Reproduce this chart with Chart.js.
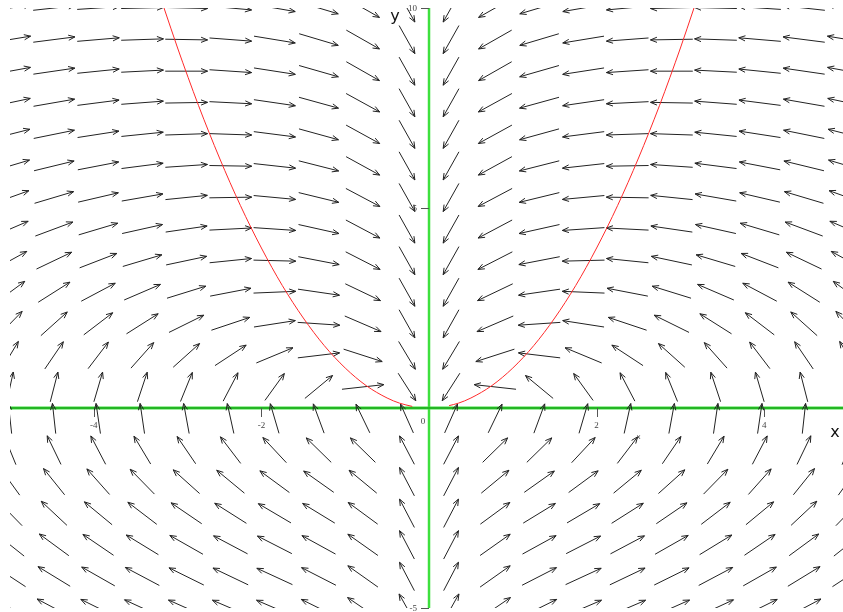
<!DOCTYPE html>
<html>
<head>
<meta charset="utf-8">
<script src="https://cdn.jsdelivr.net/npm/chart.js@4.4.0/dist/chart.umd.min.js"></script>
<style>
  html, body { margin: 0; padding: 0; background: #fff; }
  #wrap { width: 843px; height: 612px; position: relative; }
</style>
</head>
<body>
<div id="wrap"><canvas id="field"></canvas></div>
<script>
// Direction field grid (data units)
const gridX = [-5, -4.474, -3.947, -3.421, -2.895, -2.368, -1.842, -1.316, -0.789, -0.263,
               0.263, 0.789, 1.316, 1.842, 2.368, 2.895, 3.421, 3.947, 4.474, 5];
const gridY = [-5, -4.211, -3.421, -2.632, -1.842, -1.053, -0.263, 0.526, 1.316, 2.105,
               2.895, 3.684, 4.474, 5.263, 6.053, 6.842, 7.632, 8.421, 9.211, 10];

// Arrow directions in degrees (data space), one row per gridY value, one column per gridX value
const arrowAngles = [
  [130,132,134,136,137,138,138,134,125,105, 75,55,46,42,42,43,44,46,48,50],
  [126,128,130,132,134,135,136,133,124,104, 76,56,47,44,45,46,48,50,52,54],
  [121,123,125,128,130,132,133,131,124,104, 76,56,49,47,48,50,52,55,57,59],
  [115,117,120,122,125,127,129,128,123,104, 76,57,52,51,53,55,58,60,63,65],
  [109,111,113,115,118,120,123,124,120,104, 76,60,56,57,60,62,65,67,69,71],
  [101,103,104,106,108,110,114,116,116,104, 76,64,64,66,70,72,74,76,77,79],
  [93,93,94,94,95,96,98,100,103,102, 78,77,80,82,84,85,86,86,87,87],
  [84,83,82,81,79,76,71,60,13,-73, 253,167,120,109,104,101,99,98,97,96],
  [74,72,70,67,62,54,41,14,-34,-74, 254,214,166,139,126,118,113,110,108,106],
  [65,62,58,53,46,35,18,-8,-42,-75, 255,222,188,162,145,134,127,122,118,115],
  [57,53,48,42,33,22,5,-17,-45,-75, 255,225,197,175,158,147,138,132,127,123],
  [49,45,39,32,24,12,-3,-22,-47,-75, 255,227,202,183,168,156,148,141,135,131],
  [42,38,32,25,17,6,-8,-25,-48,-75, 255,228,205,188,174,163,155,148,142,138],
  [37,32,26,20,12,2,-11,-27,-48,-75, 255,228,207,191,178,168,160,154,148,143],
  [32,27,22,15,8,-2,-13,-28,-49,-75, 255,229,208,193,182,172,165,158,153,148],
  [28,23,18,12,4,-4,-15,-30,-49,-75, 255,229,210,195,184,176,168,162,157,152],
  [24,20,15,9,2,-6,-17,-30,-49,-75, 255,229,210,197,186,178,171,165,160,156],
  [21,17,12,6,0,-8,-18,-31,-50,-75, 255,230,211,198,188,180,174,168,163,159],
  [19,15,10,4,-2,-9,-19,-32,-50,-75, 255,230,212,199,189,182,176,170,165,161],
  [17,13,8,3,-3,-11,-20,-32,-50,-75, 255,230,212,200,191,183,177,172,167,163]
];

// Red curve, two pieces (gap at the origin)
const curveLeftX = [-3.162, -3, -2.75, -2.5, -2.25, -2, -1.75, -1.5, -1.25, -1, -0.75, -0.5, -0.35, -0.2];
const curveLeftY = [10, 9, 7.56, 6.25, 5.06, 4, 3.06, 2.25, 1.56, 1, 0.56, 0.25, 0.12, 0.04];
const curveRightX = [0.24, 0.35, 0.5, 0.75, 1, 1.25, 1.5, 1.75, 2, 2.25, 2.5, 2.75, 3, 3.162];
const curveRightY = [0.06, 0.12, 0.25, 0.56, 1, 1.56, 2.25, 3.06, 4, 5.06, 6.25, 7.56, 9, 10];

// Axis tick labels
const xTicks = [-4, -2, 2, 4];
const yTicks = [-5, 5, 10];

const toPoints = (xs, ys) => xs.map((v, i) => ({ x: v, y: ys[i] }));

const fieldPlugin = {
    id: 'field',
    beforeDatasetsDraw(chart) {
        const { ctx, chartArea: a, scales: { x, y } } = chart;
        const x0 = x.getPixelForValue(0);
        const y0 = y.getPixelForValue(0);
        ctx.save();

        // green axes
        ctx.lineCap = 'butt';
        ctx.strokeStyle = '#3ee03e';
        ctx.lineWidth = 3;
        ctx.beginPath();
        ctx.moveTo(a.left, y0); ctx.lineTo(a.right, y0);
        ctx.stroke();
        ctx.lineWidth = 2.5;
        ctx.beginPath();
        ctx.moveTo(x0, a.top); ctx.lineTo(x0, a.bottom);
        ctx.stroke();
        ctx.strokeStyle = '#0a8a0a';
        ctx.lineWidth = 1;
        ctx.beginPath();
        ctx.moveTo(a.left, y0); ctx.lineTo(a.right, y0);
        ctx.stroke();

        // tick marks
        ctx.strokeStyle = '#555';
        ctx.beginPath();
        xTicks.forEach(v => {
            const px = Math.round(x.getPixelForValue(v)) + 0.5;
            ctx.moveTo(px, y0); ctx.lineTo(px, y0 + 9);
        });
        yTicks.forEach(v => {
            const py = Math.round(y.getPixelForValue(v)) + 0.5;
            ctx.moveTo(x0 - 8, py); ctx.lineTo(x0, py);
        });
        ctx.stroke();

        // arrows
        ctx.beginPath();
        ctx.rect(a.left, a.top, a.right - a.left, a.bottom - a.top);
        ctx.clip();
        const hx = gridX[1] - gridX[0];
        const hy = gridY[1] - gridY[0];
        const gx = x.getPixelForValue(gridX[1]) - x.getPixelForValue(gridX[0]);
        const gy = y.getPixelForValue(gridY[0]) - y.getPixelForValue(gridY[1]);
        ctx.strokeStyle = '#222';
        ctx.lineWidth = 1;
        ctx.beginPath();
        gridY.forEach((yv, i) => {
            gridX.forEach((xv, j) => {
                const t = arrowAngles[i][j] * Math.PI / 180;
                let u = Math.cos(t) / hx, w = Math.sin(t) / hy;
                const n = Math.hypot(u, w);
                u = u / n * 0.96; w = w / n * 0.96;
                const dx = u * gx, dy = -w * gy;
                const cx = x.getPixelForValue(xv), cy = y.getPixelForValue(yv);
                const hxp = cx + dx / 2, hyp = cy + dy / 2;
                ctx.moveTo(cx - dx / 2, cy - dy / 2);
                ctx.lineTo(hxp, hyp);
                const ang = Math.atan2(dy, dx) + Math.PI;
                ctx.moveTo(hxp + 7 * Math.cos(ang - 0.38), hyp + 7 * Math.sin(ang - 0.38));
                ctx.lineTo(hxp, hyp);
                ctx.lineTo(hxp + 7 * Math.cos(ang + 0.38), hyp + 7 * Math.sin(ang + 0.38));
            });
        });
        ctx.stroke();
        ctx.restore();
    },
    afterDatasetsDraw(chart) {
        const { ctx, scales: { x, y } } = chart;
        const x0 = x.getPixelForValue(0);
        const y0 = y.getPixelForValue(0);
        ctx.save();
        ctx.fillStyle = '#444';
        ctx.font = '9px "Liberation Serif"';
        ctx.textAlign = 'center';
        ctx.textBaseline = 'middle';
        xTicks.forEach(v => ctx.fillText(String(v), x.getPixelForValue(v), y0 + 18));
        ctx.fillText('0', x0 - 6, y0 + 14);
        ctx.textAlign = 'right';
        yTicks.forEach(v => ctx.fillText(String(v), x0 - 12, y.getPixelForValue(v) + 1));

        // small stray axis label
        ctx.textAlign = 'center';
        ctx.font = '7px "DejaVu Sans"';
        ctx.fillText('x', x.getPixelForValue(2.5), y.getPixelForValue(-0.72));

        // axis titles
        ctx.fillStyle = '#111';
        ctx.font = '16px "DejaVu Sans"';
        ctx.fillText('x', chart.chartArea.right - 8, y0 + 25);
        ctx.fillText('y', x0 - 34, y.getPixelForValue(10) + 9);
        ctx.restore();
    }
};

new Chart(document.getElementById('field'), {
    type: 'scatter',
    data: {
        datasets: [
            {
                label: 'left',
                data: toPoints(curveLeftX, curveLeftY),
                showLine: true,
                borderColor: '#ff2a2a',
                borderWidth: 1,
                pointRadius: 0,
                cubicInterpolationMode: 'monotone'
            },
            {
                label: 'right',
                data: toPoints(curveRightX, curveRightY),
                showLine: true,
                borderColor: '#ff2a2a',
                borderWidth: 1,
                pointRadius: 0,
                cubicInterpolationMode: 'monotone'
            }
        ]
    },
    options: {
        responsive: true,
        maintainAspectRatio: false,
        animation: false,
        layout: { padding: { left: 10, right: 0, top: 8, bottom: 4 } },
        scales: {
            x: { type: 'linear', min: -5, max: 4.94, display: false },
            y: { type: 'linear', min: -5, max: 10, display: false }
        },
        plugins: {
            legend: { display: false },
            tooltip: { enabled: false }
        }
    },
    plugins: [fieldPlugin]
});
</script>
</body>
</html>
